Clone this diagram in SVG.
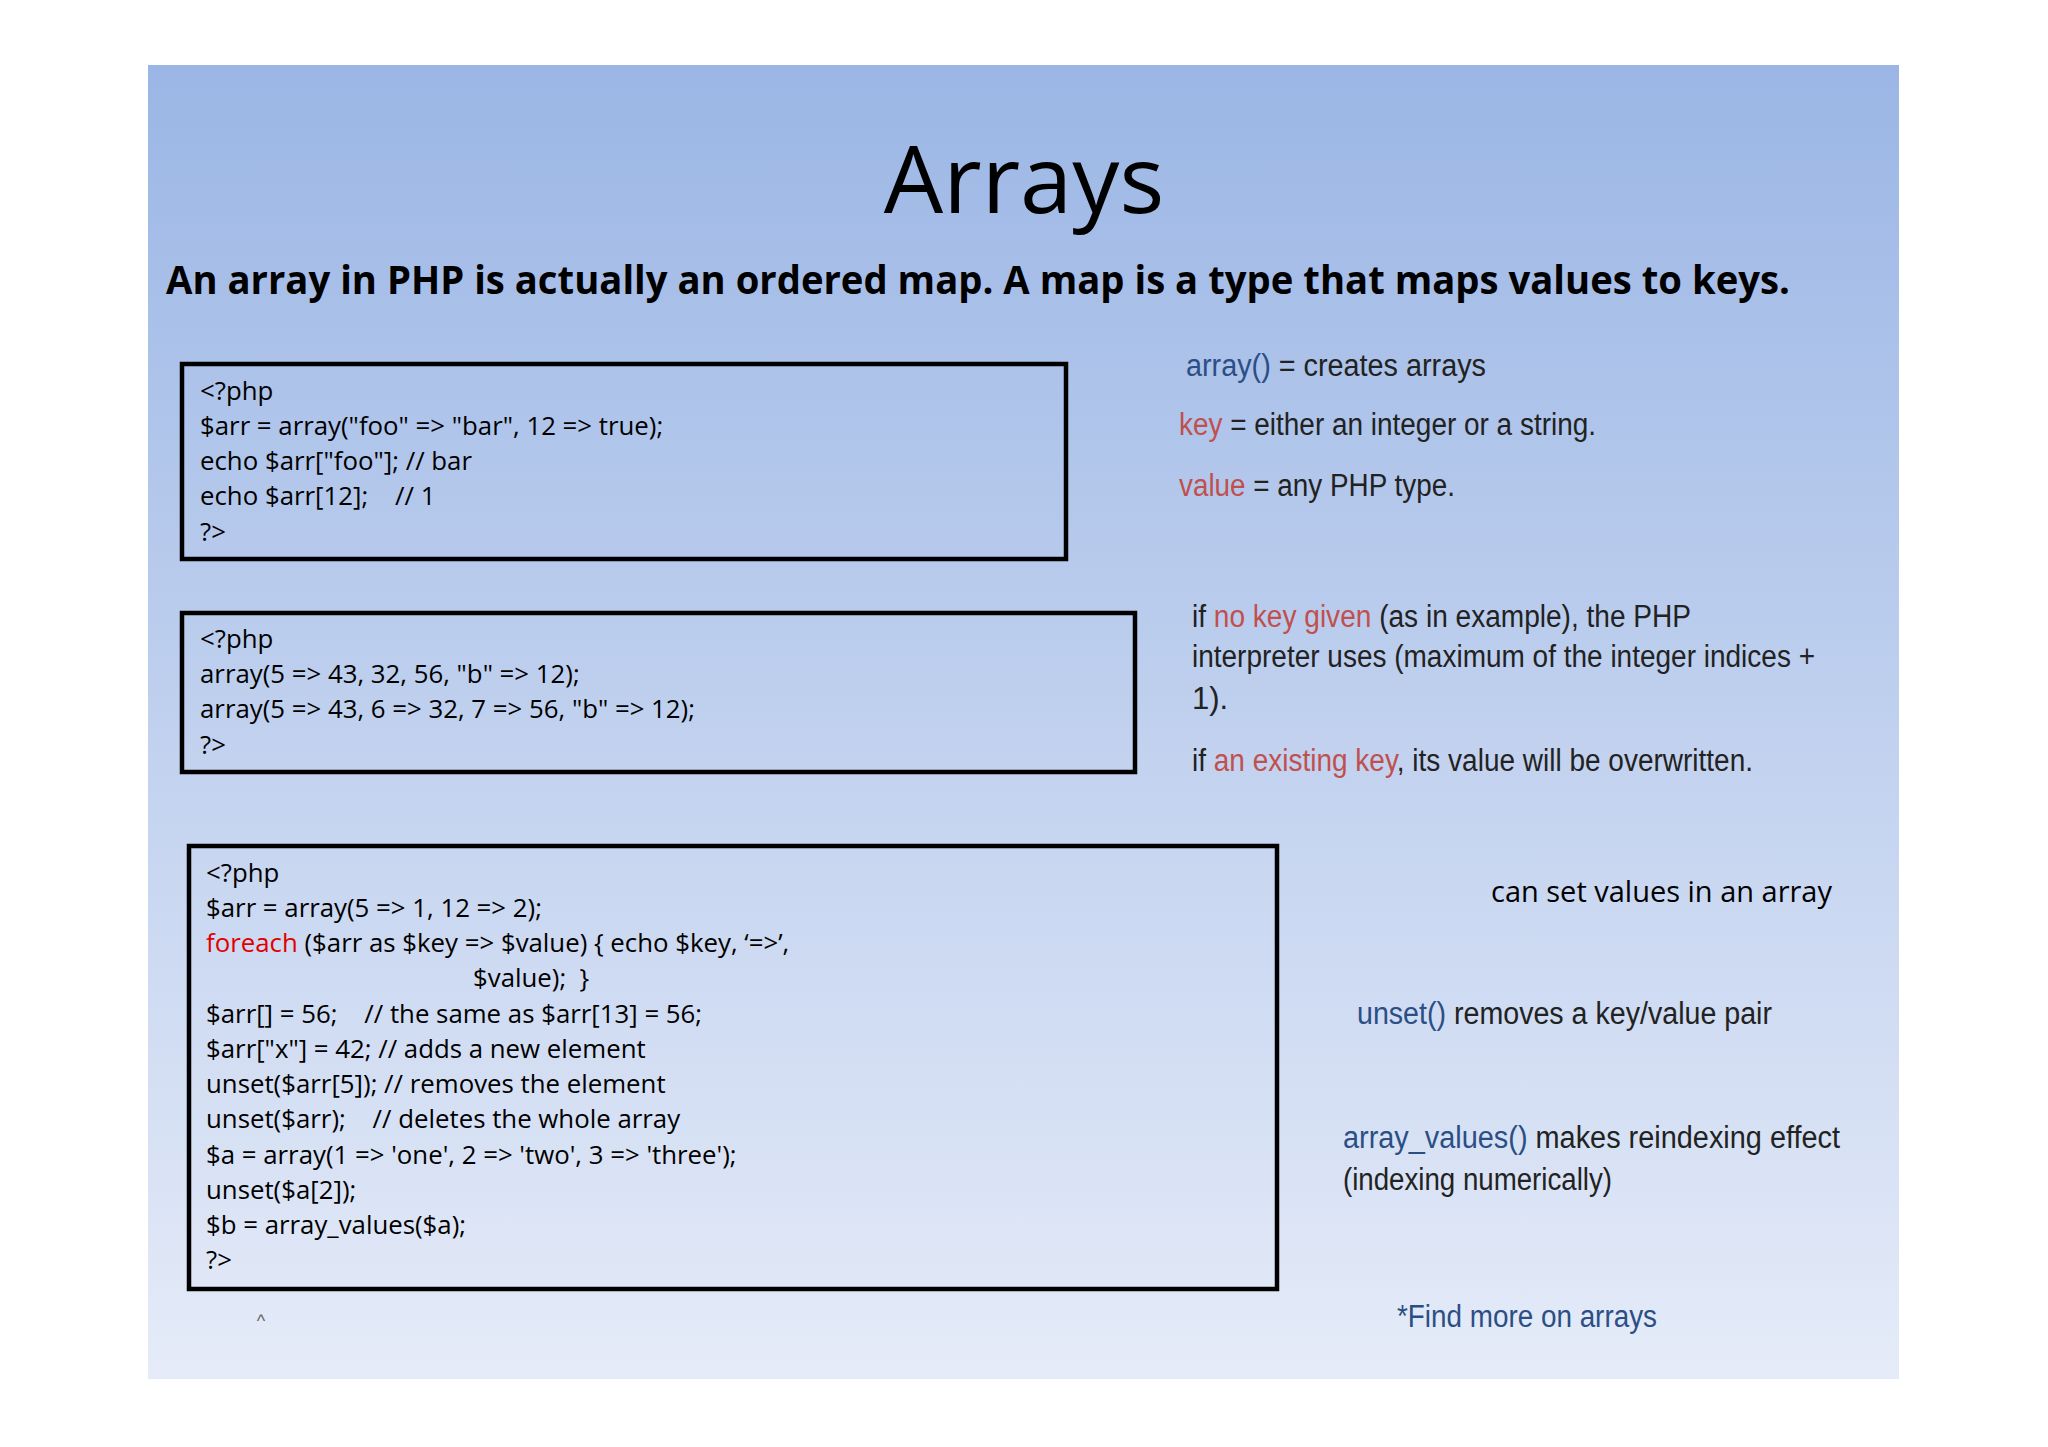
<svg xmlns="http://www.w3.org/2000/svg" width="2048" height="1447" viewBox="0 0 2048 1447">
<defs>
<linearGradient id="bg" x1="0" y1="0" x2="0" y2="1">
<stop offset="0" stop-color="#9bb6e5"/>
<stop offset="1" stop-color="#e5ebf8"/>
</linearGradient>
<style>
.code{font-family:"Open Sans","Noto Sans",sans-serif;font-size:25.8px;fill:#000}
.box{fill:none;stroke:#000;stroke-width:4.5}
.r{font-family:"Liberation Sans Narrow","Liberation Sans",sans-serif;font-size:31px;fill:#222}
.b{fill:#2b4f85}
.red{fill:#c0504d}
</style>
</defs>
<rect width="2048" height="1447" fill="#fff"/>
<rect x="148" y="65" width="1751" height="1314" fill="url(#bg)"/>
<text x="1024" y="213" text-anchor="middle" font-family="Open Sans, Noto Sans, sans-serif" font-size="94" fill="#000">Arrays</text>
<text x="166" y="294" font-family="Open Sans, Noto Sans, sans-serif" font-weight="bold" font-size="39" fill="#000" textLength="1624" lengthAdjust="spacingAndGlyphs">An array in PHP is actually an ordered map. A map is a type that maps values to keys.</text>
<g id="box1">
<rect class="box" x="182" y="364" width="884" height="195"/>
<text class="code" x="200" y="400">&lt;?php</text>
<text class="code" x="200" y="435">$arr = array("foo" =&gt; "bar", 12 =&gt; true);</text>
<text class="code" x="200" y="470">echo $arr["foo"]; // bar</text>
<text class="code" x="200" y="505" xml:space="preserve">echo $arr[12];    // 1</text>
<text class="code" x="200" y="541">?&gt;</text>
</g>
<g id="box2">
<rect class="box" x="182" y="613" width="953" height="159"/>
<text class="code" x="200" y="648">&lt;?php</text>
<text class="code" x="200" y="683">array(5 =&gt; 43, 32, 56, "b" =&gt; 12);</text>
<text class="code" x="200" y="718">array(5 =&gt; 43, 6 =&gt; 32, 7 =&gt; 56, "b" =&gt; 12);</text>
<text class="code" x="200" y="754">?&gt;</text>
</g>
<g id="box3">
<rect class="box" x="189" y="846" width="1088" height="443"/>
<text class="code" x="206" y="882">&lt;?php</text>
<text class="code" x="206" y="917">$arr = array(5 =&gt; 1, 12 =&gt; 2);</text>
<text class="code" x="206" y="952"><tspan fill="#e00000">foreach</tspan> ($arr as $key =&gt; $value) { echo $key, ‘=&gt;’,</text>
<text class="code" x="473" y="987" xml:space="preserve">$value);  }</text>
<text class="code" x="206" y="1023" xml:space="preserve">$arr[] = 56;    // the same as $arr[13] = 56;</text>
<text class="code" x="206" y="1058">$arr["x"] = 42; // adds a new element</text>
<text class="code" x="206" y="1093">unset($arr[5]); // removes the element</text>
<text class="code" x="206" y="1128" xml:space="preserve">unset($arr);    // deletes the whole array</text>
<text class="code" x="206" y="1164">$a = array(1 =&gt; 'one', 2 =&gt; 'two', 3 =&gt; 'three');</text>
<text class="code" x="206" y="1199">unset($a[2]);</text>
<text class="code" x="206" y="1234">$b = array_values($a);</text>
<text class="code" x="206" y="1269">?&gt;</text>
</g>
<g id="notes">
<text class="r" x="1186" y="376" textLength="300" lengthAdjust="spacingAndGlyphs"><tspan class="b">array()</tspan> = creates arrays</text>
<text class="r" x="1179" y="435" textLength="417" lengthAdjust="spacingAndGlyphs"><tspan class="red">key</tspan> = either an integer or a string.</text>
<text class="r" x="1179" y="496" textLength="276" lengthAdjust="spacingAndGlyphs"><tspan class="red">value</tspan> = any PHP type.</text>
<text class="r" x="1192" y="627" textLength="499" lengthAdjust="spacingAndGlyphs">if <tspan class="red">no key given</tspan> (as in example), the PHP</text>
<text class="r" x="1192" y="667" textLength="623" lengthAdjust="spacingAndGlyphs">interpreter uses (maximum of the integer indices +</text>
<text class="r" x="1192" y="709">1).</text>
<text class="r" x="1192" y="771" textLength="561" lengthAdjust="spacingAndGlyphs">if <tspan class="red">an existing key</tspan>, its value will be overwritten.</text>
<text x="1491" y="902" font-family="Open Sans, Noto Sans, sans-serif" font-size="30" fill="#000" textLength="341" lengthAdjust="spacingAndGlyphs">can set values in an array</text>
<text class="r" x="1357" y="1024" textLength="415" lengthAdjust="spacingAndGlyphs"><tspan class="b">unset()</tspan> removes a key/value pair</text>
<text class="r" x="1343" y="1148" textLength="497" lengthAdjust="spacingAndGlyphs"><tspan class="b">array_values()</tspan> makes reindexing effect</text>
<text class="r" x="1343" y="1190" textLength="269" lengthAdjust="spacingAndGlyphs">(indexing numerically)</text>
<text class="r b" x="1397" y="1327" textLength="260" lengthAdjust="spacingAndGlyphs">*Find more on arrays</text>
<text x="261" y="1327" text-anchor="middle" font-family="Liberation Sans, sans-serif" font-size="18" fill="#666">^</text>
</g>
</svg>
